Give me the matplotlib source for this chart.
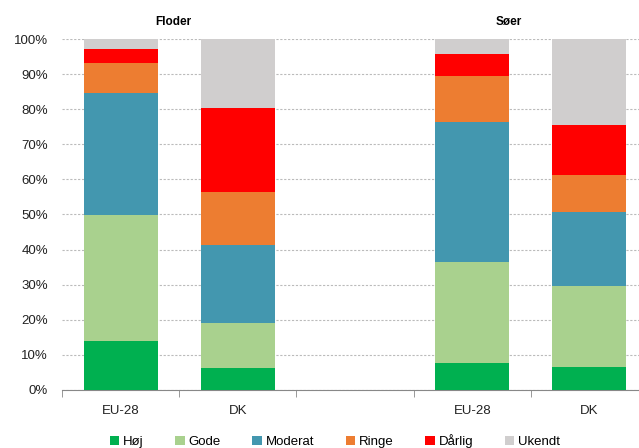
import numpy as np
import matplotlib
matplotlib.use("Agg")
import matplotlib.pyplot as plt

plt.rcParams['font.family'] = ['Liberation Sans', 'DejaVu Sans']

# categories (empty slot between the two groups)
labels = ["EU-28", "DK", "", "EU-28", "DK"]
groups = ["Floder", "Søer"]
series = ["Høj", "Gode", "Moderat", "Ringe", "Dårlig", "Ukendt"]
colors = ["#00B050", "#A9D18E", "#4397AF", "#ED7D31", "#FF0000", "#D0CECE"]

# percentages per bar, order = labels (middle slot empty)
hoej    = [13.9,  6.1, 0,  7.7,  6.4]
gode    = [36.0, 13.0, 0, 28.8, 23.2]
moderat = [34.8, 22.2, 0, 40.0, 21.0]
ringe   = [8.4,  15.2, 0, 13.0, 10.8]
daarlig = [4.0,  23.9, 0,  6.4, 14.1]
ukendt  = [2.9,  19.6, 0,  4.1, 24.5]
values = [hoej, gode, moderat, ringe, daarlig, ukendt]

fig = plt.figure(figsize=(6.39, 4.48), dpi=100)
ax = fig.add_axes([62/639, 58.3/448, 586/639, 350.4/448])

x = np.arange(len(labels))
bottom = np.zeros(len(labels))
for name, vals, c in zip(series, values, colors):
    vals = np.array(vals)
    ax.bar(x, vals, width=0.63, bottom=bottom, color=c, label=name, zorder=3)
    bottom += vals

ax.set_xlim(-0.5, len(labels) - 0.5)
ax.set_ylim(0, 100)
ax.set_yticks(np.arange(0, 101, 10))
ax.set_yticklabels([f"{v}%" for v in range(0, 101, 10)], fontsize=9.5, color="#222222")
ax.yaxis.grid(True, linestyle=(0, (2, 1.5)), color="#BBBBBB", linewidth=0.8, zorder=0)
ax.tick_params(axis='y', length=0, pad=10)

ax.set_xticks(x)
ax.set_xticklabels(labels, fontsize=9.5, color="#222222")
ax.tick_params(axis='x', length=0, pad=11)
ax.set_xticks(np.arange(-0.5, len(labels), 1), minor=True)
ax.tick_params(axis='x', which='minor', length=5, color="#888888", direction='out')

for s in ["left", "right", "top"]:
    ax.spines[s].set_visible(False)
ax.spines["bottom"].set_color("#888888")

fig.text(173/639, 1 - 22/448, groups[0], fontsize=8.5, fontweight="bold", ha="center", va="center")
fig.text(509/639, 1 - 22/448, groups[1], fontsize=8.5, fontweight="bold", ha="center", va="center")

fig.legend(loc="center", bbox_to_anchor=(335/639, 1 - 441/448), ncol=6, frameon=False,
           fontsize=9.5, handlelength=0.7, handleheight=0.7, handletextpad=0.3,
           columnspacing=2.4, borderaxespad=0)

fig.savefig("out.png", dpi=100)
